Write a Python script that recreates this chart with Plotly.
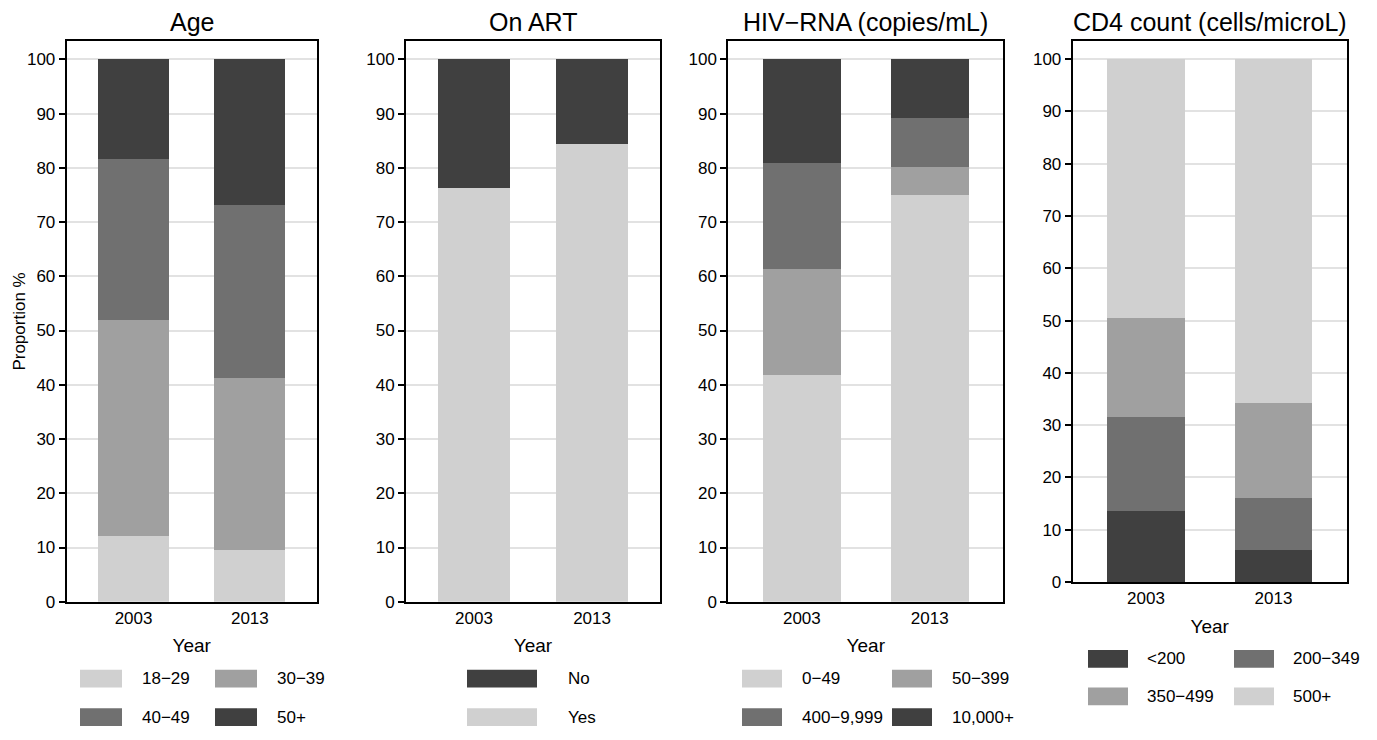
import plotly.graph_objects as go

W, H = 1377, 740
FONT = "Liberation Sans, Arial, Helvetica, sans-serif"

years = ["2003", "2013"]

LIGHT, MID, DARK, DARKEST = "#d0d0d0", "#a0a0a0", "#707070", "#404040"

# ---- data (stack order: bottom -> top), values per year [2003, 2013] ----
age_labels = ["18\u221229", "30\u221239", "40\u221249", "50+"]
age_values = [[12.2, 9.5], [39.7, 31.8], [29.7, 31.8], [18.4, 26.9]]
age_colors = [LIGHT, MID, DARK, DARKEST]
age_legend = ["18\u221229", "30\u221239", "40\u221249", "50+"]

art_labels = ["Yes", "No"]
art_values = [[76.3, 84.3], [23.7, 15.7]]
art_colors = [LIGHT, DARKEST]
art_legend = ["No", "Yes"]

rna_labels = ["0\u221249", "50\u2212399", "400\u22129,999", "10,000+"]
rna_values = [[41.8, 74.9], [19.5, 5.2], [19.6, 9.0], [19.1, 10.9]]
rna_colors = [LIGHT, MID, DARK, DARKEST]
rna_legend = ["0\u221249", "50\u2212399", "400\u22129,999", "10,000+"]

cd4_labels = ["<200", "200\u2212349", "350\u2212499", "500+"]
cd4_values = [[13.6, 6.1], [17.9, 10.0], [19.0, 18.2], [49.5, 65.7]]
cd4_colors = [DARKEST, DARK, MID, LIGHT]
cd4_legend = ["<200", "200\u2212349", "350\u2212499", "500+"]

titles = ["Age", "On ART", "HIV\u2212RNA (copies/mL)", "CD4 count (cells/microL)"]
y_title = "Proportion %"
x_title = "Year"
y_ticks = [0, 10, 20, 30, 40, 50, 60, 70, 80, 90, 100]

# ---- layout geometry (pixels) ----
frames_x = [(66.7, 316.7), (406.0, 660.0), (728.3, 1003.3), (1072.7, 1346.7)]
frames_y = [(42, 610), (42, 610), (42, 610), (42, 590)]
y_max = [103.3, 103.3, 103.3, 103.4]
legend_cfg = [
    dict(x0=80, col_step=135, sw=42, tdx=60, ncols=2, y0=688, row_step=39),
    dict(x0=467, col_step=0, sw=70, tdx=99, ncols=1, y0=688, row_step=39),
    dict(x0=742, col_step=150, sw=40, tdx=58, ncols=2, y0=688, row_step=39),
    dict(x0=1088, col_step=146, sw=40, tdx=57, ncols=2, y0=668, row_step=38),
]

panels = [
    (age_labels, age_values, age_colors, age_legend),
    (art_labels, art_values, art_colors, art_legend),
    (rna_labels, rna_values, rna_colors, rna_legend),
    (cd4_labels, cd4_values, cd4_colors, cd4_legend),
]

fig = go.Figure()
shapes = []
annotations = []


def px(x):
    return x / W


def py(y):
    return 1 - y / H


for i, (labels, values, colors, legend_order) in enumerate(panels):
    n = "" if i == 0 else str(i + 1)
    for lab, vals, col in zip(labels, values, colors):
        fig.add_trace(go.Bar(
            x=years, y=vals, name=lab, marker=dict(color=col, line=dict(width=0)),
            xaxis="x" + n, yaxis="y" + n, showlegend=False,
            hovertemplate=lab + ": %{y}%<extra></extra>",
        ))
    fx0, fx1 = frames_x[i]
    fy0, fy1 = frames_y[i]
    fig.layout["xaxis" + n] = dict(
        domain=[px(fx0), px(fx1)], anchor="y" + n, type="category",
        range=[-0.575, 1.575], showline=True, mirror=True, linecolor="black",
        linewidth=2, ticks="", showgrid=False,
        tickfont=dict(size=17, color="black", family=FONT),
        title=dict(text=x_title, font=dict(size=19, color="black", family=FONT), standoff=12),
    )
    fig.layout["yaxis" + n] = dict(
        domain=[py(fy1), py(fy0)], anchor="x" + n, range=[0, y_max[i]],
        tickvals=y_ticks, showline=True, mirror=True, linecolor="black",
        linewidth=2, ticks="outside", ticklen=6, tickwidth=1.5, tickcolor="black",
        showgrid=True, gridcolor="#e2e2e2", gridwidth=2, zeroline=False,
        tickfont=dict(size=17, color="black", family=FONT),
    )
    # panel title
    annotations.append(dict(
        text=titles[i], x=px((fx0 + fx1) / 2), y=py(fy0 - 3), xref="paper", yref="paper",
        xanchor="center", yanchor="bottom", showarrow=False,
        font=dict(size=25, color="black", family=FONT),
    ))
    # legend (swatches + labels)
    cfg = legend_cfg[i]
    color_of = dict(zip(labels, colors))
    for k, lab in enumerate(legend_order):
        r, c = divmod(k, cfg["ncols"])
        sx = cfg["x0"] + c * cfg["col_step"]
        sy = cfg["y0"] + r * cfg["row_step"]
        shapes.append(dict(
            type="rect", xref="paper", yref="paper",
            x0=px(sx), x1=px(sx + cfg["sw"]), y0=py(sy + 9), y1=py(sy - 9),
            fillcolor=color_of[lab], line=dict(width=0), layer="above",
        ))
        annotations.append(dict(
            text=lab, x=px(sx + cfg["tdx"]), y=py(sy), xref="paper", yref="paper",
            xanchor="left", yanchor="middle", showarrow=False,
            font=dict(size=17, color="black", family=FONT),
        ))

# y-axis title of the first panel
annotations.append(dict(
    text=y_title, x=px(20), y=py((frames_y[0][0] + frames_y[0][1]) / 2),
    xref="paper", yref="paper", textangle=-90, xanchor="center", yanchor="middle",
    showarrow=False, font=dict(size=17, color="black", family=FONT),
))

fig.update_layout(
    width=W, height=H, autosize=False,
    margin=dict(l=0, r=0, t=0, b=0),
    barmode="stack", bargap=0.39,
    plot_bgcolor="white", paper_bgcolor="white",
    font=dict(family=FONT, color="black"),
    shapes=shapes, annotations=annotations,
    showlegend=False,
)

fig.write_html(
    "out.html",
    config={"displayModeBar": False},
    post_script="document.body.style.margin='0';document.body.style.overflow='hidden';",
)
